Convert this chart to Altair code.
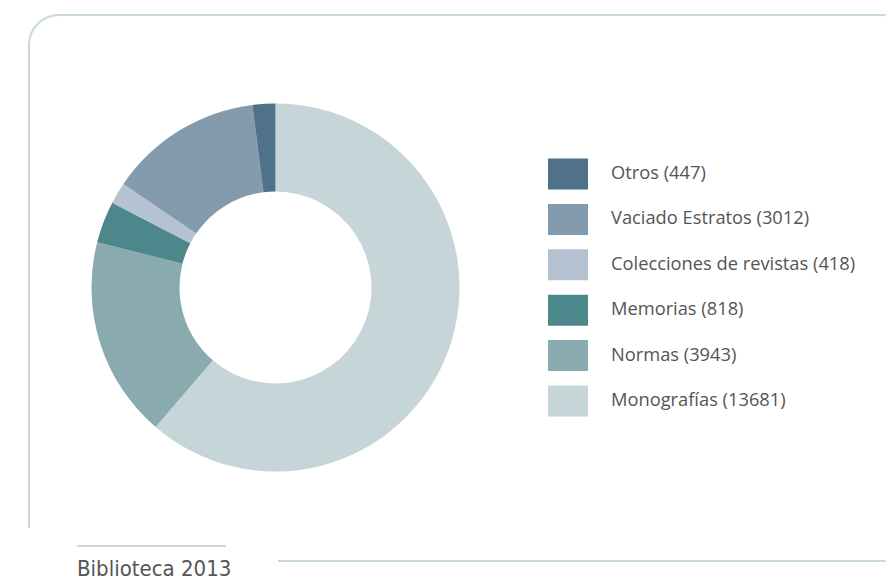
import altair as alt
import pandas as pd

# Data (clockwise from 12 o'clock)
categories = ["Monografías", "Normas", "Memorias", "Colecciones de revistas", "Vaciado Estratos", "Otros"]
values = [13681, 3943, 818, 418, 3012, 447]
colors = ["#c5d5d8", "#89abaf", "#4c878b", "#b5c2d2", "#849bae", "#4f7189"]
footer_text = "Biblioteca 2013"

labels = [f"{c} ({v})" for c, v in zip(categories, values)]
df = pd.DataFrame({"label": labels, "value": values, "order": list(range(len(categories)))})

legend_order = list(reversed(labels))
legend_colors = list(reversed(colors))

W, H = 878, 573
FRAME = "#c9d9db"

donut = alt.Chart(df).mark_arc(outerRadius=184, innerRadius=96, stroke=None).encode(
    theta=alt.Theta("value:Q", stack=True),
    order=alt.Order("order:Q", sort="ascending"),
    color=alt.Color(
        "label:N",
        scale=alt.Scale(domain=legend_order, range=legend_colors),
        legend=alt.Legend(
            title=None,
            orient="none",
            legendX=540,
            legendY=146,
            symbolType="M-1,-0.775H1V0.775H-1Z",
            symbolSize=1600,
            symbolStrokeWidth=0,
            symbolOpacity=1,
            rowPadding=9.4,
            labelOffset=23,
            labelFont="Open Sans",
            labelFontSize=18.3,
            labelColor="#555555",
            labelLimit=400,
        ),
    ),
    x=alt.value(267.5),
    y=alt.value(279.5),
)

one = alt.Data(values=[{"a": 1}])

frame = alt.Chart(one).mark_rect(
    fill="transparent", stroke=FRAME, strokeWidth=2, cornerRadius=30
).encode(
    x=alt.value(21), x2=alt.value(904), y=alt.value(7), y2=alt.value(553)
)

cover = alt.Chart(one).mark_rect(fill="white", stroke=None).encode(
    x=alt.value(0), x2=alt.value(270), y=alt.value(520), y2=alt.value(573)
)

rule = alt.Chart(one).mark_rule(stroke=FRAME, strokeWidth=2).encode(
    x=alt.value(69), x2=alt.value(218), y=alt.value(538)
)

footer = alt.Chart(one).mark_text(
    text=footer_text,
    align="left",
    baseline="alphabetic",
    font="DejaVu Sans Condensed, DejaVu Sans, sans-serif",
    fontSize=22,
    color="#555555",
).encode(x=alt.value(69), y=alt.value(568))

chart = alt.layer(frame, cover, donut, rule, footer).properties(
    width=W, height=H, padding=0, autosize=alt.AutoSizeParams(type="none")
).configure_view(stroke=None)

chart.save("out.html", embed_options={"renderer": "svg", "actions": False})
